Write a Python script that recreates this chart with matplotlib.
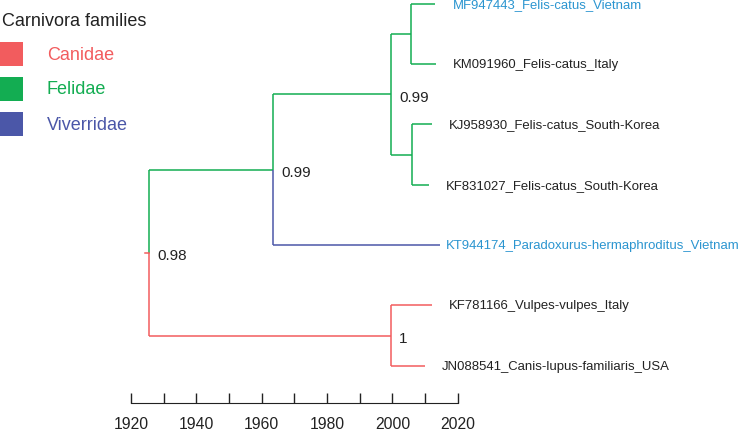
import matplotlib
matplotlib.use("Agg")
import matplotlib.pyplot as plt
from matplotlib.patches import Rectangle

plt.rcParams['font.family'] = ['Liberation Sans', 'DejaVu Sans']

# tips, top to bottom
tip_names = ["MF947443_Felis-catus_Vietnam", "KM091960_Felis-catus_Italy",
             "KJ958930_Felis-catus_South-Korea", "KF831027_Felis-catus_South-Korea",
             "KT944174_Paradoxurus-hermaphroditus_Vietnam",
             "KF781166_Vulpes-vulpes_Italy", "JN088541_Canis-lupus-familiaris_USA"]
tip_years = [2013.1, 2013.3, 2012.1, 2011.2, 2014.5, 2012.1, 2009.9]
tip_family = ["Felidae", "Felidae", "Felidae", "Felidae", "Viverridae", "Canidae", "Canidae"]
tip_highlight = [True, False, False, False, True, False, False]

# internal nodes (children listed top to bottom)
node_names = ["root", "fel_viv", "felis", "felis_a", "felis_b", "canid"]
node_years = [1925.5, 1963.5, 1999.6, 2005.7, 2006.0, 1999.5]
node_children = [["fel_viv", "canid"],
                 ["felis", "KT944174_Paradoxurus-hermaphroditus_Vietnam"],
                 ["felis_a", "felis_b"],
                 ["MF947443_Felis-catus_Vietnam", "KM091960_Felis-catus_Italy"],
                 ["KJ958930_Felis-catus_South-Korea", "KF831027_Felis-catus_South-Korea"],
                 ["KF781166_Vulpes-vulpes_Italy", "JN088541_Canis-lupus-familiaris_USA"]]
node_family = ["Canidae", "Felidae", "Felidae", "Felidae", "Felidae", "Canidae"]
node_support = ["0.98", "0.99", "0.99", None, None, "1"]

families = ["Canidae", "Felidae", "Viverridae"]
family_colors = {"Canidae": "#f25c5e", "Felidae": "#13ad52", "Viverridae": "#4b57a8"}
highlight_color = "#2b95d0"
text_color = "#222222"

# positions of every node
xpos, ypos, fam = {}, {}, {}
for i, name in enumerate(tip_names):
    xpos[name] = tip_years[i]
    ypos[name] = i
    fam[name] = tip_family[i]
for name, yr, f in zip(node_names, node_years, node_family):
    xpos[name] = yr
    fam[name] = f


def get_y(name):
    if name not in ypos:
        idx = node_names.index(name)
        ys = [get_y(c) for c in node_children[idx]]
        ypos[name] = sum(ys) / len(ys)
    return ypos[name]


for name in node_names:
    get_y(name)

W, H = 742, 431
fig = plt.figure(figsize=(W / 100, H / 100), dpi=100)
ax = fig.add_axes([0, 0, 1, 1])
lw = 1.1

for idx, name in enumerate(node_names):
    x0, y0 = xpos[name], ypos[name]
    for child in node_children[idx]:
        c = family_colors[fam[child]]
        ax.plot([x0, x0], [y0, ypos[child]], color=c, lw=lw, solid_capstyle='butt')
        ax.plot([x0, xpos[child]], [ypos[child], ypos[child]], color=c, lw=lw,
                solid_capstyle='butt')
    if node_support[idx] is not None:
        ax.annotate(node_support[idx], (x0, y0), xytext=(6, -2), textcoords='offset points',
                    ha='left', va='center', fontsize=11, color=text_color)

# root stub
ax.plot([xpos["root"] - 1.2, xpos["root"]], [ypos["root"]] * 2,
        color=family_colors[fam["root"]], lw=lw)

# tip labels
for i, name in enumerate(tip_names):
    off = 4.5 if name.startswith("KT") else 12.5
    ax.annotate(name, (tip_years[i], i), xytext=(off, 0), textcoords='offset points',
                ha='left', va='center', fontsize=9.45,
                color=highlight_color if tip_highlight[i] else text_color)

# legend, placed in figure pixels
fig.text(2 / W, 1 - 22 / H, "Carnivora families", fontsize=13, color=text_color,
         ha='left', va='center')
for i, f in enumerate(families):
    top = 43 + 35 * i
    fig.patches.append(Rectangle((0, 1 - (top + 24) / H), 23 / W, 24 / H,
                                 transform=fig.transFigure, facecolor=family_colors[f],
                                 edgecolor='none'))
    fig.text(47 / W, 1 - (top + 12) / H, f, fontsize=13, color=family_colors[f],
             ha='left', va='center')

# time axis
ax.set_xlim(1879.9, 2107.0)
ax.set_ylim(7.066, -0.078)
for s in ['top', 'left', 'right']:
    ax.spines[s].set_visible(False)
ax.spines['bottom'].set_position(('data', 6.62))
ax.spines['bottom'].set_bounds(1920, 2020)
ax.spines['bottom'].set_color(text_color)
ax.set_xticks(range(1920, 2021, 20))
ax.set_xticks(range(1930, 2021, 20), minor=True)
ax.tick_params(axis='x', which='both', direction='in', length=7, width=1, colors=text_color,
               labelsize=11.3, pad=9)
ax.set_yticks([])
ax.patch.set_visible(False)

fig.savefig("out.png", dpi=100)
